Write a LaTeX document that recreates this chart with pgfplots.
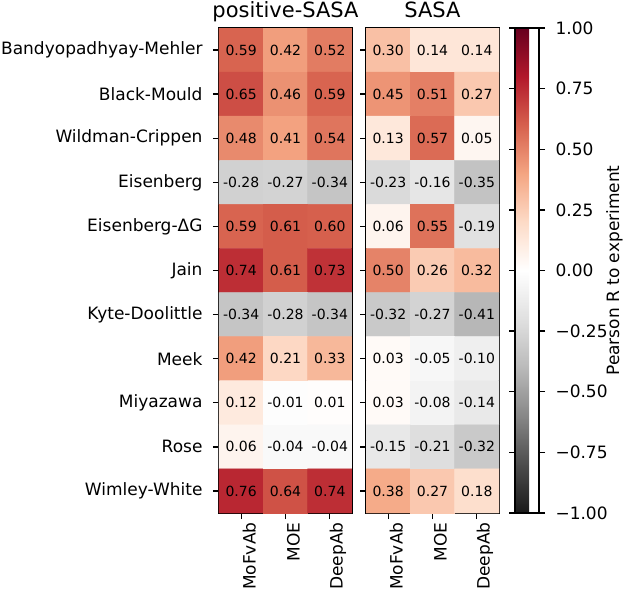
\documentclass[border=0pt]{standalone}
\usepackage{fontspec}
\setmainfont{DejaVu Sans}
\usepackage{pgfplots}
\pgfplotsset{compat=1.18}
\usepackage{pgfplotstable}

\pgfplotstableread{
x y c
0 0 0.59
1 0 0.42
2 0 0.52
0 1 0.65
1 1 0.46
2 1 0.59
0 2 0.48
1 2 0.41
2 2 0.54
0 3 -0.28
1 3 -0.27
2 3 -0.34
0 4 0.59
1 4 0.61
2 4 0.60
0 5 0.74
1 5 0.61
2 5 0.73
0 6 -0.34
1 6 -0.28
2 6 -0.34
0 7 0.42
1 7 0.21
2 7 0.33
0 8 0.12
1 8 -0.01
2 8 0.01
0 9 0.06
1 9 -0.04
2 9 -0.04
0 10 0.76
1 10 0.64
2 10 0.74
}\posdata

\pgfplotstableread{
x y c
0 0 0.30
1 0 0.14
2 0 0.14
0 1 0.45
1 1 0.51
2 1 0.27
0 2 0.13
1 2 0.57
2 2 0.05
0 3 -0.23
1 3 -0.16
2 3 -0.35
0 4 0.06
1 4 0.55
2 4 -0.19
0 5 0.50
1 5 0.26
2 5 0.32
0 6 -0.32
1 6 -0.27
2 6 -0.41
0 7 0.03
1 7 -0.05
2 7 -0.10
0 8 0.03
1 8 -0.08
2 8 -0.14
0 9 -0.15
1 9 -0.21
2 9 -0.32
0 10 0.38
1 10 0.27
2 10 0.18
}\sasadata

\pgfplotsset{
  hm/.style={
    scale only axis, width=133pt, height=485pt,
    xmin=-0.5, xmax=2.5, ymin=-0.5, ymax=10.5, y dir=reverse,
    enlargelimits=false,
    colormap={rdgyr}{rgb255=(26,26,26) rgb255=(77,77,77) rgb255=(135,135,135) rgb255=(186,186,186) rgb255=(224,224,224) rgb255=(255,255,255) rgb255=(253,219,199) rgb255=(244,165,130) rgb255=(214,96,77) rgb255=(178,24,43) rgb255=(103,0,31)},
    point meta min=-1, point meta max=1,
    xtick={0,1,2}, xticklabels={MoFvAb,MOE,DeepAb},
    xticklabel style={rotate=90, anchor=east, yshift=-8pt, font=\fontsize{17}{20}\selectfont},
    ytick={0,1,2,3,4,5,6,7,8,9,10},
    yticklabel style={xshift=-7pt, font=\fontsize{17}{20}\selectfont},
    tick align=outside, major tick length=6pt,
    xtick pos=bottom, ytick pos=left,
    axis line style={line width=1.3pt},
    every tick/.style={black, line width=1.3pt},
    /pgf/number format/assume math mode=true,
    title style={at={(0.5,1)}, anchor=base, yshift=5pt, font=\fontsize{21}{25}\selectfont},
    nodes near coords={\pgfmathprintnumber[fixed,zerofill,precision=2]{\pgfplotspointmeta}},
    nodes near coords align=center,
    every node near coord/.append style={font=\fontsize{14}{16}\selectfont, text=black, anchor=center},
  }
}

\begin{document}
\begin{tikzpicture}
\useasboundingbox (0,0) rectangle (625pt,-597pt);
\begin{axis}[hm, at={(219pt,-28pt)}, anchor=north west,
  title={positive-SASA},
  yticklabels={Bandyopadhyay-Mehler,Black-Mould,Wildman-Crippen,Eisenberg,Eisenberg-ΔG,Jain,Kyte-Doolittle,Meek,Miyazawa,Rose,Wimley-White}]
\addplot[matrix plot*, mesh/cols=3, point meta=explicit] table[x=x,y=y,meta=c] {\posdata};
\end{axis}
\begin{axis}[hm, at={(366pt,-28pt)}, anchor=north west,
  title={SASA},
  yticklabels={},
  colorbar,
  colorbar shift/.style={},
  colorbar style={
    at={(parent axis.north east)}, anchor=north west, xshift=16pt,
    scale only axis, width=24pt,
    ytick={-1,-0.75,-0.5,-0.25,0,0.25,0.5,0.75,1},
    yticklabels={−1.00,−0.75,−0.50,−0.25,0.00,0.25,0.50,0.75,1.00},
    yticklabel style={xshift=7pt, font=\fontsize{17}{20}\selectfont},
    tick align=outside, major tick length=6pt,
    axis line style={line width=1.3pt},
    every tick/.style={black, line width=1.3pt},
    ylabel={Pearson R to experiment},
    ylabel style={at={(axis description cs:1,0.5)}, anchor=north, inner sep=0pt, yshift=-67pt, font=\fontsize{17}{20}\selectfont},
  }]
\addplot[matrix plot*, mesh/cols=3, point meta=explicit] table[x=x,y=y,meta=c] {\sasadata};
\end{axis}
\end{tikzpicture}
\end{document}
